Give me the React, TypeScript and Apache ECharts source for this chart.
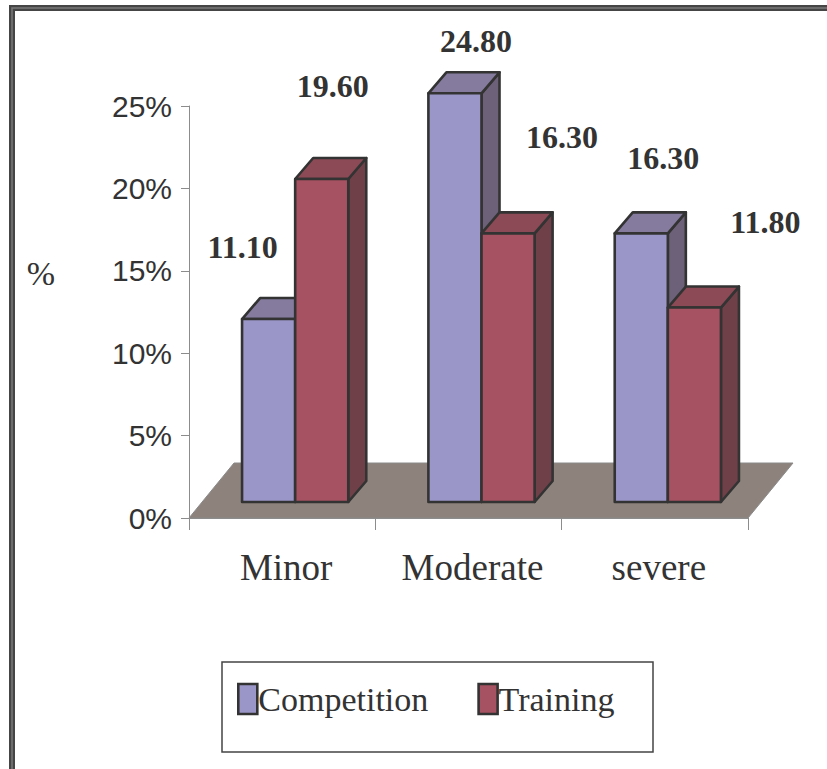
import React, { useEffect, useRef } from "react";
import * as echarts from "echarts";

// ---- data ----
const categories = ["Minor", "Moderate", "severe"];
const seriesNames = ["Competition", "Training"];
const competition = [11.1, 24.8, 16.3];
const training = [19.6, 16.3, 11.8];
const yMin = 0;
const yMax = 25;
const yInterval = 5;

// ---- layout / style (not data) ----
const FRONT = [13, -16]; // bar front plane offset from axis plane
const DEPTH = [18, -21]; // bar depth projection
const FLOOR = [45, -55]; // floor depth projection
const BAR_FRAC = 0.285;
const labelOffsets = [
  [[-26, -72], [21, -52], [22, -75]],
  [[11, -93], [54, -96], [71, -86]],
];
const palette = [
  { front: "#9B96C8", top: "#857B9E", side: "#6D6079" },
  { front: "#A65262", top: "#8B4A55", side: "#704049" },
];
const EDGE = "#333333";
const TEXT = "#333333";

function makeBarRender(s: number) {
  return (params: any, api: any) => {
    const i = api.value(0);
    const v = api.value(1);
    const base = api.coord([i, 0]);
    const top = api.coord([i, v]);
    const band = api.size([1, 0])[0];
    const w = band * BAR_FRAC;
    const x0 = base[0] + FRONT[0] + (s === 0 ? -w : 0);
    const x1 = x0 + w;
    const yb = base[1] + FRONT[1];
    const yt = top[1] + FRONT[1];
    const dx = DEPTH[0];
    const dy = DEPTH[1];
    const c = palette[s];
    const st = { stroke: EDGE, lineWidth: 2.6, lineJoin: "round" };
    const off = labelOffsets[s][i];
    return {
      type: "group",
      children: [
        {
          type: "polygon",
          shape: { points: [[x1, yb], [x1 + dx, yb + dy], [x1 + dx, yt + dy], [x1, yt]] },
          style: { fill: c.side, ...st },
        },
        {
          type: "polygon",
          shape: { points: [[x0, yt], [x0 + dx, yt + dy], [x1 + dx, yt + dy], [x1, yt]] },
          style: { fill: c.top, ...st },
        },
        {
          type: "rect",
          shape: { x: x0, y: yt, width: w, height: yb - yt },
          style: { fill: c.front, ...st },
        },
        {
          type: "text",
          x: (x0 + x1) / 2 + off[0],
          y: yt + off[1],
          style: {
            text: v.toFixed(2),
            font: 'bold 32px "Liberation Serif"',
            fill: TEXT,
            align: "center",
            verticalAlign: "middle",
          },
        },
      ],
    };
  };
}

function floorRender(params: any, api: any) {
  const cs = params.coordSys;
  const xa = cs.x;
  const xb = cs.x + cs.width;
  const yb = cs.y + cs.height;
  return {
    type: "polygon",
    shape: {
      points: [
        [xa, yb],
        [xa + FLOOR[0], yb + FLOOR[1]],
        [xb + FLOOR[0], yb + FLOOR[1]],
        [xb, yb],
      ],
    },
    style: { fill: "#8E827D", stroke: "#8a8a8a", lineWidth: 1 },
  };
}

export default function App() {
  const ref = useRef<HTMLDivElement>(null);
  useEffect(() => {
    if (!ref.current) return;
    const chart = echarts.init(ref.current, null, { renderer: "svg" });
    const option: any = {
      animation: false,
      backgroundColor: "#ffffff",
      grid: { left: 189, top: 106, width: 559, height: 412 },
      xAxis: {
        type: "category",
        data: categories,
        z: 3,
        axisLine: { lineStyle: { color: "#8c8c8c", width: 1 } },
        axisTick: { show: true, length: 12, lineStyle: { color: "#8c8c8c" } },
        axisLabel: {
          margin: 31,
          fontFamily: "Liberation Serif",
          fontSize: 37,
          color: TEXT,
          padding: [0, 0, 0, 8],
        },
        splitLine: { show: false },
      },
      yAxis: {
        type: "value",
        min: yMin,
        max: yMax,
        interval: yInterval,
        z: 3,
        axisLine: { show: true, lineStyle: { color: "#8c8c8c", width: 1 } },
        axisTick: { show: true, length: 8, lineStyle: { color: "#8c8c8c" } },
        axisLabel: {
          margin: 17,
          formatter: "{value}%",
          fontFamily: "Liberation Sans",
          fontSize: 30,
          color: TEXT,
        },
        splitLine: { show: false },
      },
      legend: {
        left: 237,
        top: 682,
        padding: 0,
        itemWidth: 19,
        itemHeight: 30,
        itemGap: 49,
        icon: "rect",
        data: seriesNames.map((n, k) => ({
          name: n,
          itemStyle: { color: palette[k].front, borderColor: EDGE, borderWidth: 2.6 },
        })),
        textStyle: {
          fontFamily: "Liberation Serif",
          fontSize: 34,
          color: TEXT,
          padding: [0, 0, 0, -4],
        },
      },
      graphic: [
        {
          type: "rect",
          shape: { x: 12, y: 8, width: 1000, height: 1000 },
          style: { fill: "none", stroke: "#454545", lineWidth: 6 },
          silent: true,
        },
        {
          type: "rect",
          shape: { x: 12, y: 8, width: 1000, height: 1000 },
          style: { fill: "none", stroke: "#7a7a7a", lineWidth: 1.5 },
          silent: true,
        },
        {
          type: "rect",
          shape: { x: 222, y: 662, width: 431, height: 90 },
          style: { fill: "none", stroke: "#444444", lineWidth: 1.5 },
          silent: true,
        },
        {
          type: "text",
          x: 41,
          y: 273,
          style: {
            text: "%",
            font: '34px "Liberation Serif"',
            fill: TEXT,
            align: "center",
            verticalAlign: "middle",
          },
        },
      ],
      series: [
        {
          name: "floor",
          type: "custom",
          z: 1,
          silent: true,
          renderItem: floorRender,
          data: [[0, 0]],
          encode: { x: 0, y: 1 },
        },
        {
          name: seriesNames[0],
          type: "custom",
          z: 2,
          renderItem: makeBarRender(0),
          itemStyle: { color: palette[0].front, borderColor: EDGE, borderWidth: 2 },
          data: competition.map((v, i) => [i, v]),
          encode: { x: 0, y: 1 },
        },
        {
          name: seriesNames[1],
          type: "custom",
          z: 2,
          renderItem: makeBarRender(1),
          itemStyle: { color: palette[1].front, borderColor: EDGE, borderWidth: 2 },
          data: training.map((v, i) => [i, v]),
          encode: { x: 0, y: 1 },
        },
      ],
    };
    chart.setOption(option);
    return () => chart.dispose();
  }, []);
  return (
    <div
      ref={ref}
      style={{ position: "fixed", left: 0, top: 0, width: 827, height: 769, background: "#fff" }}
    />
  );
}
